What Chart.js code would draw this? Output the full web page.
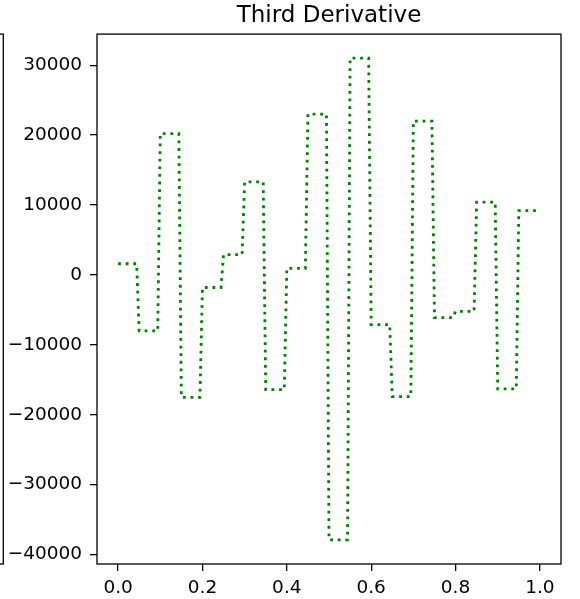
<!DOCTYPE html>
<html>
<head>
<meta charset="utf-8">
<script src="https://cdn.jsdelivr.net/npm/chart.js@4/dist/chart.umd.min.js"></script>
<style>
    html, body { margin: 0; padding: 0; background: #ffffff; }
    #wrap { width: 580px; height: 599px; }
</style>
</head>
<body>
<div id="wrap"><canvas id="derivChart" width="580" height="599"></canvas></div>
<script>
    // knots of the spline and the constant third derivative on each interval
    var knots = [0, 0.05, 0.1, 0.15, 0.2, 0.25, 0.3, 0.35, 0.4, 0.45, 0.5,
                 0.55, 0.6, 0.65, 0.7, 0.75, 0.8, 0.85, 0.9, 0.95, 1.0];
    var levels = [1600, -8000, 20200, -17500, -1800, 2900, 13300, -16400, 950, 23000,
                  -37900, 31000, -7100, -17400, 22000, -6100, -5200, 10400, -16300, 9200];
    var xTicks = [0.0, 0.2, 0.4, 0.6, 0.8, 1.0];
    var yTicks = [-40000, -30000, -20000, -10000, 0, 10000, 20000, 30000];

    // width of the sampled jump at each knot
    var ramp = 0.006;

    function buildSteps() {
        var pts = [];
        for (var i = 0; i < levels.length; i++) {
            pts.push({ x: knots[i], y: levels[i] });
            var end = knots[i + 1];
            if (i < levels.length - 1) end -= ramp;
            pts.push({ x: end, y: levels[i] });
        }
        return pts;
    }

    function minusSign(v) {
        return v < 0 ? '\u2212' + Math.abs(v) : String(v);
    }

    // axes frame, plus the edge of the neighbouring panel on the left
    var framePlugin = {
        id: 'frame',
        afterDraw: function (chart) {
            var a = chart.chartArea;
            var ctx = chart.ctx;
            ctx.save();
            ctx.strokeStyle = '#000000';
            ctx.lineWidth = 1.3;
            ctx.strokeRect(a.left, a.top, a.right - a.left, a.bottom - a.top);
            ctx.strokeRect(-10, a.top, 13.3, a.bottom - a.top);
            ctx.restore();
        }
    };

    Chart.defaults.font.family = "'DejaVu Sans', sans-serif";
    Chart.defaults.color = '#000000';

    var ctx = document.getElementById('derivChart').getContext('2d');
    new Chart(ctx, {
        type: 'line',
        data: {
            datasets: [{
                label: 'Third Derivative',
                data: buildSteps(),
                borderColor: '#008000',
                borderWidth: 2.8,
                borderDash: [2.8, 4.8],
                borderCapStyle: 'butt',
                pointRadius: 0,
                fill: false,
                tension: 0
            }]
        },
        options: {
            responsive: false,
            animation: false,
            devicePixelRatio: 1,
            layout: { padding: { left: 0, right: 19, top: 0, bottom: 0 } },
            plugins: {
                legend: { display: false },
                tooltip: { enabled: false },
                title: {
                    display: true,
                    text: 'Third Derivative',
                    fullSize: false,
                    color: '#000000',
                    font: { size: 23, weight: 'normal' },
                    padding: { top: 2.5, bottom: 4 }
                }
            },
            scales: {
                x: {
                    type: 'linear',
                    min: -0.05,
                    max: 1.05,
                    border: { display: false },
                    grid: { drawOnChartArea: true, display: true, color: 'rgba(0,0,0,0)',
                            tickColor: '#000000', tickLength: 7, lineWidth: 1.3 },
                    ticks: {
                        padding: 6,
                        font: { size: 18.5 },
                        callback: function (v) { return Number(v).toFixed(1); }
                    },
                    afterBuildTicks: function (scale) {
                        scale.ticks = xTicks.map(function (v) { return { value: v }; });
                    },
                    afterFit: function (scale) { scale.height = 35; }
                },
                y: {
                    type: 'linear',
                    min: -41345,
                    max: 34445,
                    border: { display: false },
                    grid: { drawOnChartArea: true, display: true, color: 'rgba(0,0,0,0)',
                            tickColor: '#000000', tickLength: 7, lineWidth: 1.3 },
                    ticks: {
                        padding: 8,
                        font: { size: 18.5 },
                        callback: function (v) { return minusSign(v); }
                    },
                    afterBuildTicks: function (scale) {
                        scale.ticks = yTicks.map(function (v) { return { value: v }; });
                    },
                    afterFit: function (scale) { scale.width = 97; }
                }
            }
        },
        plugins: [framePlugin]
    });
</script>
</body>
</html>
